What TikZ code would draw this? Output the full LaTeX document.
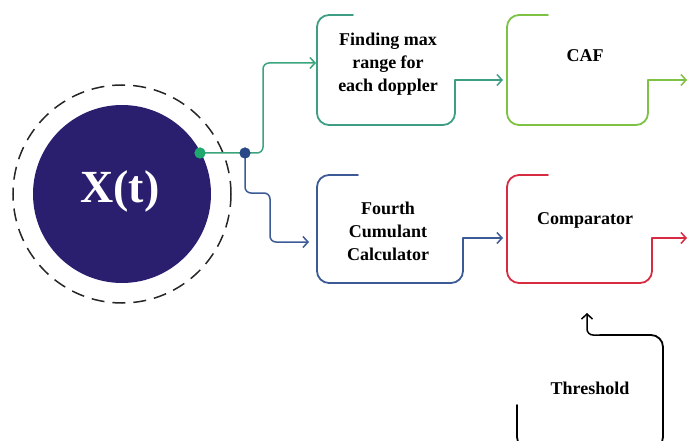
\documentclass[tikz,border=0pt]{standalone}
\usepackage{fontspec}
\setmainfont{Liberation Serif}
\newfontfamily\lserif{Liberation Serif}
\usetikzlibrary{arrows.meta}
\definecolor{navy}{RGB}{42,30,110}
\definecolor{gdot}{RGB}{30,168,110}
\definecolor{gline}{RGB}{58,165,124}
\definecolor{teal}{RGB}{62,158,132}
\definecolor{lime}{RGB}{125,194,67}
\definecolor{bline}{RGB}{60,90,150}
\definecolor{bdot}{RGB}{40,72,136}
\definecolor{redc}{RGB}{214,43,64}
\tikzset{
  boxline/.style={line width=1.8pt, rounded corners=12pt, line cap=round},
  conn/.style={line width=1.5pt, rounded corners=6pt, -{Straight Barb[length=5pt,width=11pt,line width=1.5pt]}},
  lbl/.style={font=\lserif\bfseries\fontsize{18}{23}\selectfont, align=center, text=black},
  dotn/.style={circle, inner sep=0pt, minimum size=11pt}
}
\begin{document}
\begin{tikzpicture}[x=1pt,y=-1pt]
\useasboundingbox (0,0) rectangle (688,441);
\clip (0,0) rectangle (688,441);
% source circle
\node[circle, fill=navy, minimum size=178pt, inner sep=0pt] (src) at (122,194) {};
\node[font=\lserif\bfseries\fontsize{46}{50}\selectfont, text=white] (srclbl) at (120,191) {X(t)};
\draw[line width=1.5pt, dash pattern=on 13pt off 8pt, black!85] (src.center) circle[radius=109pt];
% split points
\node[dotn, fill=gdot] (g) at (200,153) {};
\node[dotn, fill=bdot] (b) at (245,153) {};
% coordinates
\coordinate (f1in) at (316,63);
\coordinate (f3in) at (309,242);
\coordinate (f2in) at (503,80);
\coordinate (f4in) at (503,238);
\coordinate (out2) at (687,80);
\coordinate (out4) at (687,238);
\coordinate (thin) at (587,313);
\coordinate (o1) at (455,80);
\coordinate (o2) at (648,80);
\coordinate (o3) at (463,238);
\coordinate (o4) at (652,238);
% boxes
\draw[boxline, teal] (353,15) -- (317,15) -- (317,125) -- (455,125) -- (o1);
\draw[boxline, lime] (548,15) -- (507,15) -- (507,125) -- (648,125) -- (o2);
\draw[boxline, bline] (358,175) -- (317,175) -- (317,283) -- (463,283) -- (o3);
\draw[boxline, redc] (548,175) -- (507,175) -- (507,283) -- (652,283) -- (o4);
\draw[boxline, black] (517,405) -- (517,449) -- (663,449) -- (663,335) -- (600,335);
% labels
\node[lbl] (t1) at (388,64) {Finding max\\range for\\each doppler};
\node[lbl] (t2) at (585,56) {CAF};
\node[lbl] (t3) at (388,231) {Fourth\\Cumulant\\Calculator};
\node[lbl] (t4) at (585,220) {Comparator};
\node[lbl] (t5) at (590,388) {Threshold};
% connectors
\draw[conn, gline] (g.center) -- (263,153) -- (263,63) -- (f1in);
\draw[conn, bline] (b.center) -- (245,193) -- (270,193) -- (270,242) -- (f3in);
\draw[conn, teal, line cap=round] (o1) -- (f2in);
\draw[conn, lime, line cap=round] (o2) -- (out2);
\draw[conn, bline, line cap=round] (o3) -- (f4in);
\draw[conn, redc, line cap=round] (o4) -- (out4);
\draw[conn, black] (610,335) -- (587,335) -- (thin);
% redraw dots on top
\node[dotn, fill=gdot] at (g) {};
\node[dotn, fill=bdot] at (b) {};
\end{tikzpicture}
\end{document}
